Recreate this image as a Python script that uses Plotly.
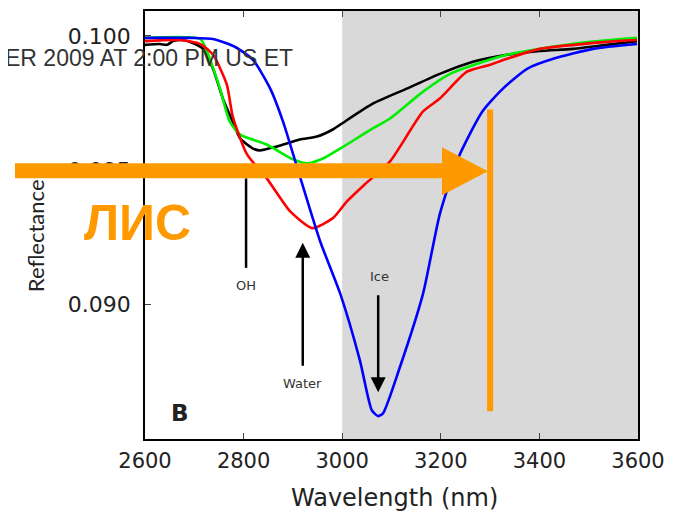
import plotly.graph_objects as go

# ---- data ----
blue_x = [2600, 2691, 2738, 2783, 2819, 2854, 2880, 2914, 2955, 2996, 3036, 3060, 3073, 3083,
          3117, 3164, 3198, 3235, 3284, 3326, 3375, 3428, 3509, 3598]
blue_y = [0.09993, 0.09993, 0.09989, 0.09959, 0.09911, 0.09804, 0.09681, 0.09478, 0.09237, 0.09041,
          0.08792, 0.08607, 0.08585, 0.08596, 0.08767, 0.09041, 0.09337, 0.09544, 0.09718, 0.09804,
          0.09878, 0.09915, 0.09952, 0.09970]

red_x = [2600, 2671, 2712, 2738, 2766, 2778, 2807, 2847, 2894, 2939, 2981, 3010, 3046, 3097,
         3164, 3198, 3253, 3300, 3334, 3401, 3537, 3598]
red_y = [0.09981, 0.09985, 0.09970, 0.09930, 0.09819, 0.09700, 0.09559, 0.09470, 0.09348, 0.09285,
         0.09322, 0.09385, 0.09448, 0.09533, 0.09719, 0.09767, 0.09867, 0.09893, 0.09915, 0.09952,
         0.09978, 0.09985]

green_x = [2600, 2712, 2726, 2752, 2772, 2793, 2847, 2900, 2929, 2961, 2996, 3062, 3097, 3164,
           3219, 3286, 3334, 3401, 3503, 3598]
green_y = [0.09993, 0.09989, 0.09941, 0.09804, 0.09681, 0.09633, 0.09596, 0.09541, 0.09526, 0.09544,
           0.09581, 0.09656, 0.09693, 0.09793, 0.09859, 0.09904, 0.09930, 0.09952, 0.09978, 0.09993]

black_x = [2600, 2630, 2645, 2657, 2675, 2697, 2718, 2738, 2758, 2778, 2793, 2819, 2833, 2868,
           2914, 2949, 2981, 2996, 3062, 3131, 3198, 3265, 3334, 3401, 3468, 3537, 3598]
black_y = [0.09967, 0.09970, 0.09967, 0.09981, 0.09985, 0.09974, 0.09952, 0.09878, 0.09767, 0.09681,
           0.09619, 0.09581, 0.09574, 0.09589, 0.09615, 0.09626, 0.09652, 0.09670, 0.09748, 0.09804,
           0.09859, 0.09904, 0.09930, 0.09944, 0.09952, 0.09967, 0.09981]

x_ticks = [2600, 2800, 3000, 3200, 3400, 3600]
y_ticks = [0.090, 0.095, 0.100]
y_tick_labels = ["0.090", "0.095", "0.100"]

shade_range = [3000, 3600]
marker_x = 3300

ORANGE = "#FF9900"

fig = go.Figure()
for xs, ys, col in [(black_x, black_y, "#000000"), (green_x, green_y, "#00EE00"),
                    (red_x, red_y, "#FF0000"), (blue_x, blue_y, "#0000FF")]:
    fig.add_trace(go.Scatter(x=xs, y=ys, mode="lines",
                             line=dict(color=col, width=2.6, shape="spline", smoothing=0.6),
                             showlegend=False, hoverinfo="skip"))

shapes = [
    dict(type="rect", xref="x", yref="paper", x0=shade_range[0], x1=shade_range[1], y0=0, y1=1,
         fillcolor="#D9D9D9", line_width=0, layer="below"),
    # OH line
    dict(type="line", xref="x", yref="y", x0=2805, x1=2805, y0=0.09470, y1=0.09137,
         line=dict(color="black", width=2.5), layer="above"),
    # Orange arrow
    dict(type="path", xref="paper", yref="paper",
         path="M -0.2637 0.6442 L 0.6024 0.6442 L 0.6024 0.6814 L 0.6957 0.6256 "
              "L 0.6024 0.5698 L 0.6024 0.6093 L -0.2637 0.6093 Z",
         fillcolor=ORANGE, line_width=0, layer="above"),
    # Orange vertical line
    dict(type="line", xref="x", yref="paper", x0=marker_x, x1=marker_x, y0=0.0651, y1=0.7698,
         line=dict(color=ORANGE, width=6), layer="above"),
]

ann_font = dict(family="DejaVu Sans", size=13, color="#333333")
annotations = [
    dict(x=2920, y=0.0923, ax=2920, ay=0.08767, axref="x", ayref="y", xref="x", yref="y",
         text="", showarrow=True, arrowhead=2, arrowsize=1.2, arrowwidth=2.5, arrowcolor="black"),
    dict(x=3073, y=0.08674, ax=3073, ay=0.09041, axref="x", ayref="y", xref="x", yref="y",
         text="", showarrow=True, arrowhead=2, arrowsize=1.2, arrowwidth=2.5, arrowcolor="black"),
    dict(x=2805, y=0.09070, text="OH", showarrow=False, font=ann_font, xref="x", yref="y"),
    dict(x=2920, y=0.08707, text="Water", showarrow=False, font=ann_font, xref="x", yref="y"),
    dict(x=3075, y=0.09104, text="Ice", showarrow=False, font=ann_font, xref="x", yref="y"),
    dict(x=2671, y=0.08596, text="<b>B</b>", showarrow=False,
         font=dict(family="DejaVu Sans", size=23, color="#222222"), xref="x", yref="y"),
    dict(x=0.3043, y=0.8907, xref="paper", yref="paper", xanchor="right", yanchor="middle",
         text="ER 2009 AT 2:00 PM US ET", showarrow=False,
         font=dict(family="Liberation Sans", size=23, color="#333333")),
    dict(x=-0.0162, y=0.5047, xref="paper", yref="paper", xanchor="center", yanchor="middle",
         text="<b>ЛИС</b>", showarrow=False,
         font=dict(family="Liberation Sans", size=50, color=ORANGE)),
    dict(x=-0.223, y=0.474, xref="paper", yref="paper", xanchor="center", yanchor="middle",
         text="Reflectance", textangle=-90,
         showarrow=False, font=dict(family="Lato", size=22, color="#222222")),
    dict(x=0.507, y=-0.137, xref="paper", yref="paper", xanchor="center", yanchor="middle",
         text="Wavelength (nm)", showarrow=False,
         font=dict(family="DejaVu Sans", size=24, color="#222222")),
]

fig.update_layout(
    width=673, height=506,
    margin=dict(l=137, r=43, t=1, b=75),
    paper_bgcolor="white", plot_bgcolor="white",
    shapes=shapes, annotations=annotations,
    xaxis=dict(range=[2600, 3600], tickvals=x_ticks, ticks="inside", ticklen=6,
               showline=True, linecolor="black", linewidth=1.5, mirror="ticks",
               showgrid=False, zeroline=False, ticklabelstandoff=2,
               tickfont=dict(family="DejaVu Sans", size=21, color="#222222")),
    yaxis=dict(range=[0.085, 0.10093], tickvals=y_ticks, ticktext=y_tick_labels,
               ticks="inside", ticklen=6, showline=True, linecolor="black", linewidth=1.5,
               mirror=True, showgrid=False, zeroline=False, ticklabelstandoff=8,
               tickfont=dict(family="DejaVu Sans", size=22, color="#222222")),
)

fig.write_html("out.html")
